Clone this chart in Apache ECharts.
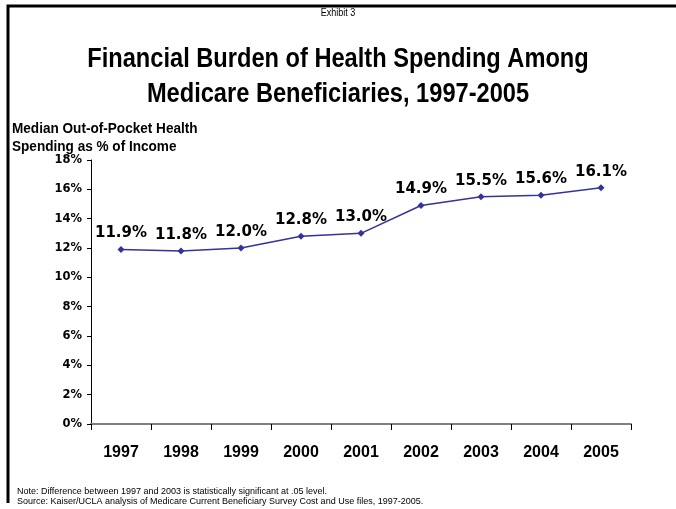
<!DOCTYPE html>
<html>
<head>
<meta charset="utf-8">
<script src="https://cdn.jsdelivr.net/npm/echarts@6/dist/echarts.min.js"></script>
<style>
  html, body { margin: 0; padding: 0; background: #fff; }
  #chart { width: 676px; height: 509px; }
</style>
</head>
<body>
<div id="chart"></div>
<script>
// 数据
var years = ['1997', '1998', '1999', '2000', '2001', '2002', '2003', '2004', '2005'];
var spendingShare = [11.9, 11.8, 12.0, 12.8, 13.0, 14.9, 15.5, 15.6, 16.1];
var yTicks = [0, 2, 4, 6, 8, 10, 12, 14, 16, 18];

var arial = '"Liberation Sans", Arial, sans-serif';
var verdana = '"DejaVu Sans", Verdana, sans-serif';

// 窄体字用 scaleX 压一下（没有 Arial Narrow）
function narrowText(text, x, y, font, sx, align) {
  return {
    type: 'text',
    x: x,
    y: y,
    scaleX: sx,
    style: {
      text: text,
      font: font,
      fill: '#000',
      textAlign: align || 'center',
      textVerticalAlign: 'middle'
    }
  };
}

var chart = echarts.init(document.getElementById('chart'));
var option = {
  animation: false,
  backgroundColor: '#fff',
  title: [
    {
      text: 'Note: Difference between 1997 and 2003 is statistically significant at .05 level.\nSource: Kaiser/UCLA analysis of Medicare Current Beneficiary Survey Cost and Use files, 1997-2005.',
      left: 12,
      top: 482,
      textStyle: { fontFamily: arial, fontSize: 9, fontWeight: 'normal', color: '#000', lineHeight: 10 }
    }
  ],
  graphic: [
    {
      type: 'polyline',
      shape: { points: [[8, 503], [8, 6], [676, 6]] },
      style: { stroke: '#000', lineWidth: 3, fill: null }
    },
    narrowText('Exhibit 3', 338, 13, 'normal 10px ' + arial, 0.9),
    narrowText('Financial Burden of Health Spending Among', 338, 60, 'bold 27px ' + arial, 0.875),
    narrowText('Medicare Beneficiaries, 1997-2005', 338, 95, 'bold 27px ' + arial, 0.875),
    narrowText('Median Out-of-Pocket Health', 12, 129, 'bold 14px ' + arial, 0.97, 'left'),
    narrowText('Spending as % of Income', 12, 147, 'bold 14px ' + arial, 0.97, 'left')
  ],
  grid: { left: 91, right: 45, top: 160, bottom: 85 },
  xAxis: {
    type: 'category',
    data: years,
    boundaryGap: true,
    axisLine: { lineStyle: { color: '#808080', width: 2 } },
    axisTick: { show: true, length: 6, lineStyle: { color: '#000', width: 1 } },
    axisLabel: {
      margin: 21,
      fontFamily: arial,
      fontSize: 16,
      fontWeight: 'bold',
      color: '#000'
    }
  },
  yAxis: {
    type: 'value',
    min: 0,
    max: 18,
    interval: 2,
    axisLine: { show: true, lineStyle: { color: '#000', width: 1 } },
    axisTick: { show: true, length: 4, lineStyle: { color: '#000' } },
    splitLine: { show: false },
    axisLabel: {
      margin: 9,
      fontFamily: verdana,
      fontSize: 11.5,
      fontWeight: 'bold',
      color: '#000',
      formatter: function (v) { return yTicks.indexOf(v) >= 0 ? v + '%' : ''; }
    }
  },
  series: [{
    name: 'Median Out-of-Pocket Health Spending as % of Income',
    type: 'line',
    data: spendingShare,
    symbol: 'diamond',
    symbolSize: 7,
    lineStyle: { color: '#333399', width: 1.5 },
    itemStyle: { color: '#333399' },
    label: {
      show: true,
      position: 'top',
      distance: 5,
      fontFamily: verdana,
      fontSize: 15,
      fontWeight: 'bold',
      color: '#000',
      formatter: function (p) { return p.value.toFixed(1) + '%'; }
    }
  }]
};
chart.setOption(option);
</script>
</body>
</html>
